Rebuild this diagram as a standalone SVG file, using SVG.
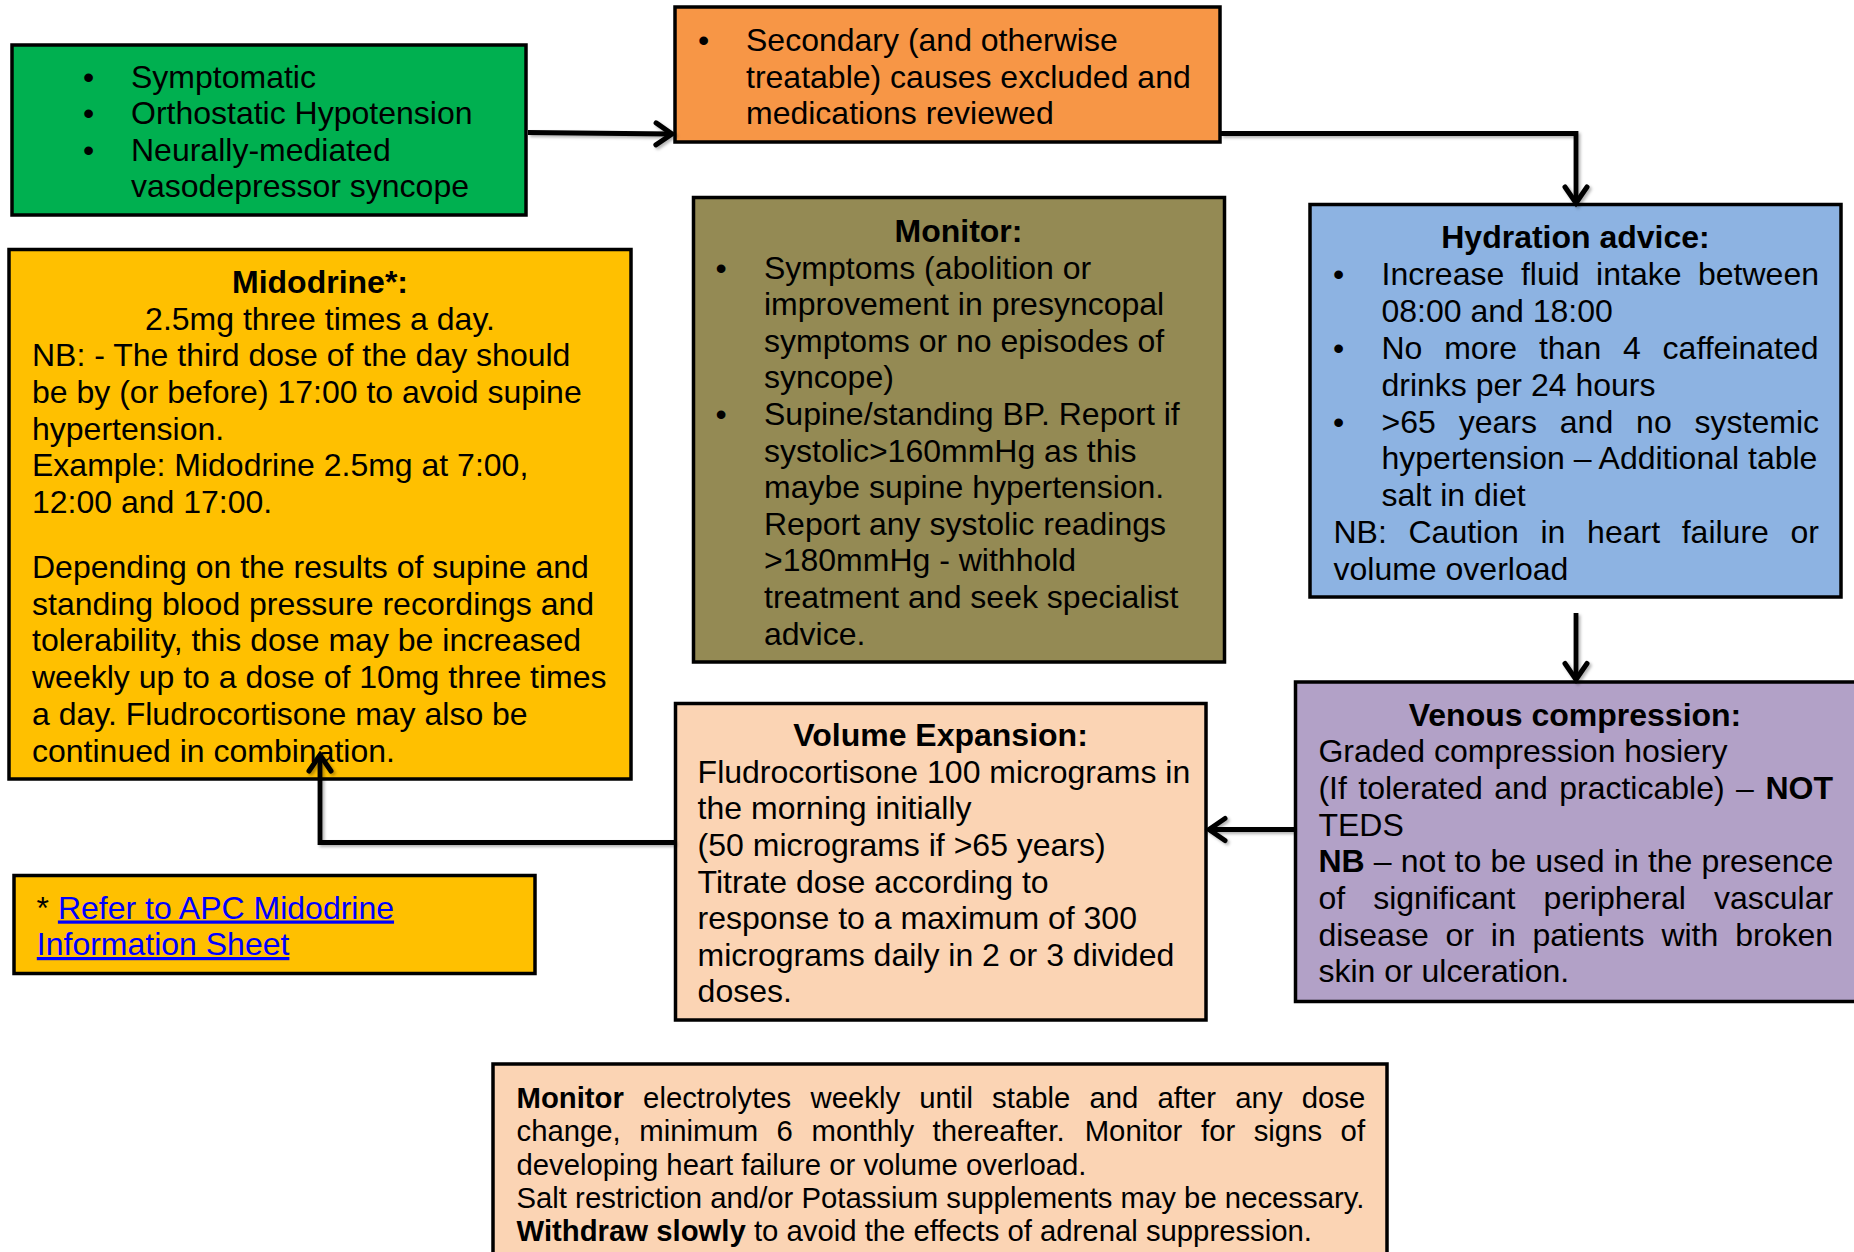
<svg xmlns="http://www.w3.org/2000/svg" width="1854" height="1252" viewBox="0 0 1854 1252">
<defs>
<style>
.t{font-family:"Liberation Sans",Arial,sans-serif;font-size:32px;fill:#000;transform:translate(0px,1.5px)}
.s{font-size:29.3px}
.b{font-weight:bold}
.c{text-anchor:middle}
.box{stroke:#000;stroke-width:3.5}
.lnk{fill:#0000FF;text-decoration:underline}
.con{fill:none;stroke:#000;stroke-width:4.8;stroke-linejoin:miter}
</style>
<marker id="arr" markerUnits="userSpaceOnUse" viewBox="-22 -14 26 28" markerWidth="26" markerHeight="28" refX="0" refY="0" orient="auto" overflow="visible">
<path d="M-16,-11 L0,0 L-16,11" fill="none" stroke="#000" stroke-width="5" stroke-linecap="round" stroke-linejoin="miter"/>
</marker>
<filter id="sh" x="-10%" y="-10%" width="120%" height="120%">
<feDropShadow dx="2" dy="2" stdDeviation="1.5" flood-color="#000" flood-opacity="0.3"/>
</filter>
</defs>
<rect width="1854" height="1252" fill="#fff"/>

<g id="node-start">
<rect class="box" x="12" y="45" width="514" height="170" fill="#00B050"/>
<text class="t"><tspan x="83" y="86">•</tspan><tspan x="131" y="86">Symptomatic</tspan></text>
<text class="t"><tspan x="83" y="122.5">•</tspan><tspan x="131" y="122.5">Orthostatic Hypotension</tspan></text>
<text class="t"><tspan x="83" y="159">•</tspan><tspan x="131" y="159">Neurally-mediated</tspan></text>
<text class="t" x="131" y="195.6">vasodepressor syncope</text>
</g>

<g id="node-secondary">
<rect class="box" x="675" y="7" width="545" height="135" fill="#F79646"/>
<text class="t"><tspan x="698" y="49.5">•</tspan><tspan x="746" y="49.5">Secondary (and otherwise</tspan></text>
<text class="t" x="746" y="86">treatable) causes excluded and</text>
<text class="t" x="746" y="122.5">medications reviewed</text>
</g>

<g id="node-midodrine">
<rect class="box" x="9" y="249.5" width="622" height="529.5" fill="#FFC000"/>
<text class="t b c" x="320" y="291">Midodrine*:</text>
<text class="t c" x="320" y="328">2.5mg three times a day.</text>
<text class="t" x="32" y="364.7">NB: - The third dose of the day should</text>
<text class="t" x="32" y="401.4">be by (or before) 17:00 to avoid supine</text>
<text class="t" x="32" y="438">hypertension.</text>
<text class="t" x="32" y="474.7">Example: Midodrine 2.5mg at 7:00,</text>
<text class="t" x="32" y="511.4">12:00 and 17:00.</text>
<text class="t" x="32" y="576.5">Depending on the results of supine and</text>
<text class="t" x="32" y="613.2">standing blood pressure recordings and</text>
<text class="t" x="32" y="649.9">tolerability, this dose may be increased</text>
<text class="t" x="32" y="686.6">weekly up to a dose of 10mg three times</text>
<text class="t" x="32" y="723.3">a day. Fludrocortisone may also be</text>
<text class="t" x="32" y="760">continued in combination.</text>
</g>

<g id="node-monitor">
<rect class="box" x="693.5" y="197.5" width="531" height="464.5" fill="#948A54"/>
<text class="t b c" x="958.5" y="240">Monitor:</text>
<text class="t"><tspan x="715.5" y="277">•</tspan><tspan x="764" y="277">Symptoms (abolition or</tspan></text>
<text class="t" x="764" y="313.5">improvement in presyncopal</text>
<text class="t" x="764" y="350">symptoms or no episodes of</text>
<text class="t" x="764" y="386.7">syncope)</text>
<text class="t"><tspan x="715.5" y="423.3">•</tspan><tspan x="764" y="423.3">Supine/standing BP. Report if</tspan></text>
<text class="t" x="764" y="460">systolic&gt;160mmHg as this</text>
<text class="t" x="764" y="496.6">maybe supine hypertension.</text>
<text class="t" x="764" y="533.2">Report any systolic readings</text>
<text class="t" x="764" y="569.8">&gt;180mmHg - withhold</text>
<text class="t" x="764" y="606.4">treatment and seek specialist</text>
<text class="t" x="764" y="643">advice.</text>
</g>

<g id="node-hydration">
<rect class="box" x="1310" y="204.5" width="531" height="392.5" fill="#8DB3E2"/>
<text class="t b c" x="1575.5" y="246.5">Hydration advice:</text>
<text class="t" y="283.4"><tspan x="1333">•</tspan><tspan x="1381.5">Increase</tspan><tspan x="1520.9">fluid</tspan><tspan x="1596.1">intake</tspan><tspan x="1698">between</tspan></text>
<text class="t" x="1381.5" y="320.3">08:00 and 18:00</text>
<text class="t" y="357.2"><tspan x="1333">•</tspan><tspan x="1381.5">No</tspan><tspan x="1444.2">more</tspan><tspan x="1538.9">than</tspan><tspan x="1623">4</tspan><tspan x="1662.6">caffeinated</tspan></text>
<text class="t" x="1381.5" y="394.1">drinks per 24 hours</text>
<text class="t" y="431"><tspan x="1333">•</tspan><tspan x="1381.5">&gt;65</tspan><tspan x="1458.7">years</tspan><tspan x="1559.8">and</tspan><tspan x="1636.1">no</tspan><tspan x="1694.6">systemic</tspan></text>
<text class="t" x="1381.5" y="467.9">hypertension – Additional table</text>
<text class="t" x="1381.5" y="504.8">salt in diet</text>
<text class="t" y="541.7"><tspan x="1333.5">NB:</tspan><tspan x="1408.5">Caution</tspan><tspan x="1540.5">in</tspan><tspan x="1587.1">heart</tspan><tspan x="1681.7">failure</tspan><tspan x="1790.5">or</tspan></text>
<text class="t" x="1333.5" y="578.6">volume overload</text>
</g>

<g id="node-venous">
<rect class="box" x="1295.5" y="682" width="600" height="319.5" fill="#B2A1C7"/>
<text class="t b c" x="1575" y="724">Venous compression:</text>
<text class="t" x="1318.4" y="760.8">Graded compression hosiery</text>
<text class="t" y="797.5"><tspan x="1318.4">(If</tspan><tspan x="1358.3">tolerated</tspan><tspan x="1494.3">and</tspan><tspan x="1559.2">practicable)</tspan><tspan x="1736.1">–</tspan><tspan x="1765.4" class="b">NOT</tspan></text>
<text class="t" x="1318.4" y="834">TEDS</text>
<text class="t" y="870.8"><tspan x="1318.4" class="b">NB</tspan><tspan x="1373.8">–</tspan><tspan x="1400.8">not</tspan><tspan x="1454.5">to</tspan><tspan x="1490.4">be</tspan><tspan x="1535.2">used</tspan><tspan x="1613.8">in</tspan><tspan x="1647.9">the</tspan><tspan x="1701.6">presence</tspan></text>
<text class="t" y="907.4"><tspan x="1318.4">of</tspan><tspan x="1373.2">significant</tspan><tspan x="1543.6">peripheral</tspan><tspan x="1714">vascular</tspan></text>
<text class="t" y="944"><tspan x="1318.4">disease</tspan><tspan x="1445.5">or</tspan><tspan x="1490.8">in</tspan><tspan x="1532.5">patients</tspan><tspan x="1661.4">with</tspan><tspan x="1735.2">broken</tspan></text>
<text class="t" x="1318.4" y="980.7">skin or ulceration.</text>
</g>

<g id="node-volume">
<rect class="box" x="675.5" y="703.5" width="530.5" height="316.5" fill="#FBD4B4"/>
<text class="t b c" x="940.5" y="744.3">Volume Expansion:</text>
<text class="t" x="697.6" y="781">Fludrocortisone 100 micrograms in</text>
<text class="t" x="697.6" y="817.6">the morning initially</text>
<text class="t" x="697.6" y="854.2">(50 micrograms if &gt;65 years)</text>
<text class="t" x="697.6" y="891">Titrate dose according to</text>
<text class="t" x="697.6" y="927.5">response to a maximum of 300</text>
<text class="t" x="697.6" y="964.2">micrograms daily in 2 or 3 divided</text>
<text class="t" x="697.6" y="1000.8">doses.</text>
</g>

<g id="node-refer">
<rect class="box" x="14" y="875.5" width="521" height="98" fill="#FFC000"/>
<text class="t" y="917"><tspan x="36.5">*</tspan><tspan x="57.9" class="lnk">Refer to APC Midodrine</tspan></text>
<text class="t lnk" x="36.8" y="953.5">Information Sheet</text>
</g>

<g id="node-electrolytes">
<rect class="box" x="493" y="1064" width="894" height="220" fill="#FBD4B4"/>
<text class="t s" y="1106"><tspan x="516.5" class="b">Monitor</tspan><tspan x="643.1">electrolytes</tspan><tspan x="810.5">weekly</tspan><tspan x="919.2">until</tspan><tspan x="992.1">stable</tspan><tspan x="1089.5">and</tspan><tspan x="1157.5">after</tspan><tspan x="1235.3">any</tspan><tspan x="1301.7">dose</tspan></text>
<text class="t s" y="1139.5"><tspan x="516.5">change,</tspan><tspan x="639.3">minimum</tspan><tspan x="776.6">6</tspan><tspan x="811.5">monthly</tspan><tspan x="932.6">thereafter.</tspan><tspan x="1084.7">Monitor</tspan><tspan x="1201">for</tspan><tspan x="1253.7">signs</tspan><tspan x="1340.6">of</tspan></text>
<text class="t s" x="516.5" y="1173">developing heart failure or volume overload.</text>
<text class="t s" x="516.5" y="1206">Salt restriction and/or Potassium supplements may be necessary.</text>
<text class="t s" x="516.5" y="1239.5"><tspan class="b">Withdraw slowly</tspan> to avoid the effects of adrenal suppression.</text>
</g>

<g id="connectors" filter="url(#sh)">
<path class="con" d="M528,132.5 L672,134" marker-end="url(#arr)"/>
<path class="con" d="M1221,133.5 H1576 V203" marker-end="url(#arr)"/>
<path class="con" d="M1576,613 V679.5" marker-end="url(#arr)"/>
<path class="con" d="M1294,829.5 H1209" marker-end="url(#arr)"/>
<path class="con" d="M675,842.5 H320 V755" marker-end="url(#arr)"/>
</g>
</svg>
